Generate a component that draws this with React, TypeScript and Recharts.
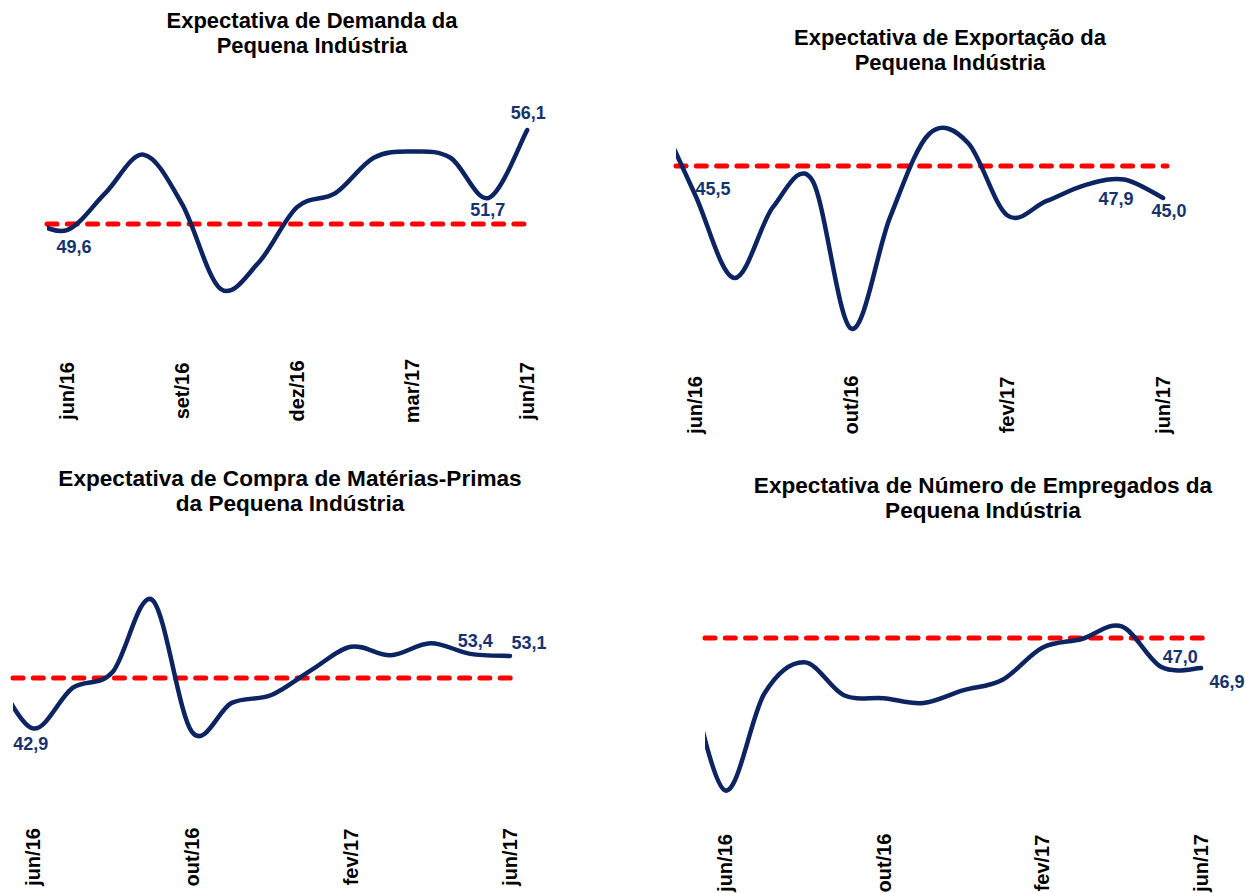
import React from 'react';
import { LineChart, Line, XAxis, YAxis, ReferenceLine, LabelList } from 'recharts';

// ---- Data -----------------------------------------------------------------
const MONTHS = ['mai/16', 'jun/16', 'jul/16', 'ago/16', 'set/16', 'out/16', 'nov/16', 'dez/16', 'jan/17', 'fev/17', 'mar/17', 'abr/17', 'mai/17', 'jun/17'];

const DEMANDA = [50.3, 49.6, 52.0, 54.5, 51.3, 45.8, 47.5, 51.1, 52.0, 54.3, 54.7, 54.3, 51.7, 56.1];
const EXPORTACAO = [58.9, 45.5, 32.5, 43.6, 47.8, 24.6, 42.0, 55.0, 53.6, 42.3, 44.5, 47.0, 47.9, 45.0];
const MATERIAS_PRIMAS = [51.0, 42.9, 48.6, 50.8, 61.0, 42.4, 46.5, 47.6, 51.1, 54.4, 53.2, 54.9, 53.4, 53.1];
const EMPREGADOS = [48.0, 34.3, 44.3, 47.5, 44.1, 43.8, 43.3, 44.6, 45.7, 49.0, 49.9, 51.2, 47.0, 46.9];

const TICKS_TRIMESTRAL = ['jun/16', 'set/16', 'dez/16', 'mar/17', 'jun/17'];
const TICKS_QUADRIMESTRAL = ['jun/16', 'out/16', 'fev/17', 'jun/17'];

const LABELED_DEMANDA = ['jun/16', 'mai/17', 'jun/17'];
const LABELED_EXPORTACAO = ['jun/16', 'mai/17', 'jun/17'];
const LABELED_MATERIAS = ['jun/16', 'mai/17', 'jun/17'];
const LABELED_EMPREGADOS = ['mai/17', 'jun/17'];

const LIMIAR = 50;

// ---- Styles ---------------------------------------------------------------
const FONT = '"Liberation Sans", Arial, Helvetica, sans-serif';
const NAVY = '#0C2461';
const LABEL_NAVY = '#16336E';
const RED = '#FF0000';
const AXIS_H = 1;

const fmt = (v: number) => v.toFixed(1).replace('.', ',');

// Excel-like smoothed line (Catmull-Rom through the points)
const smoothCurve: any = (context: any) => {
  let pts: number[][] = [];
  return {
    areaStart() {},
    areaEnd() {},
    lineStart() {
      pts = [];
    },
    point(x: number, y: number) {
      pts.push([+x, +y]);
    },
    lineEnd() {
      const n = pts.length;
      if (!n) return;
      context.moveTo(pts[0][0], pts[0][1]);
      for (let i = 0; i < n - 1; i++) {
        const p0 = pts[i - 1] || pts[i];
        const p1 = pts[i];
        const p2 = pts[i + 1];
        const p3 = pts[i + 2] || p2;
        context.bezierCurveTo(
          p1[0] + (p2[0] - p0[0]) / 6,
          p1[1] + (p2[1] - p0[1]) / 6,
          p2[0] - (p3[0] - p1[0]) / 6,
          p2[1] - (p3[1] - p1[1]) / 6,
          p2[0],
          p2[1],
        );
      }
    },
  };
};

type LabelPlace = { mes: string; dx: number; dy: number };

type Panel = {
  title: string[];
  titleCx: number;
  titleTop: number;
  titleSize: number;
  values: number[];
  ticks: string[];
  labeled: string[];
  places: LabelPlace[];
  box: { left: number; top: number; width: number; height: number };
  plot: { L: number; R: number; T: number; B: number };
  xDomain: [number, number];
  yDomain: [number, number];
  tickCenter: number;
};

const PANELS: Panel[] = [
  {
    title: ['Expectativa de Demanda da', 'Pequena Indústria'],
    titleCx: 312,
    titleTop: 8,
    titleSize: 22,
    values: DEMANDA,
    ticks: TICKS_TRIMESTRAL,
    labeled: LABELED_DEMANDA,
    places: [
      { mes: 'jun/16', dx: 7, dy: 16 },
      { mes: 'mai/17', dx: -1, dy: 12 },
      { mes: 'jun/17', dx: 1, dy: -18 },
    ],
    box: { left: 0, top: 0, width: 620, height: 445 },
    plot: { L: 47, R: 531, T: 100.8, B: 347.2 },
    xDomain: [-0.52, 12.1],
    yDomain: [42, 58],
    tickCenter: 391,
  },
  {
    title: ['Expectativa de Exportação da', 'Pequena Indústria'],
    titleCx: 950,
    titleTop: 25,
    titleSize: 22,
    values: EXPORTACAO,
    ticks: TICKS_QUADRIMESTRAL,
    labeled: LABELED_EXPORTACAO,
    places: [
      { mes: 'jun/16', dx: 18, dy: -6 },
      { mes: 'mai/17', dx: -8, dy: 19 },
      { mes: 'jun/17', dx: 6, dy: 13 },
    ],
    box: { left: 620, top: 0, width: 625, height: 445 },
    plot: { L: 676, R: 1167, T: 102, B: 358 },
    xDomain: [-0.49, 12.1],
    yDomain: [20, 60],
    tickCenter: 405,
  },
  {
    title: ['Expectativa de Compra de Matérias-Primas', 'da Pequena Indústria'],
    titleCx: 290,
    titleTop: 466,
    titleSize: 22.6,
    values: MATERIAS_PRIMAS,
    ticks: TICKS_QUADRIMESTRAL,
    labeled: LABELED_MATERIAS,
    places: [
      { mes: 'jun/16', dx: -2, dy: 15 },
      { mes: 'mai/17', dx: 5, dy: -13 },
      { mes: 'jun/17', dx: 19, dy: -13 },
    ],
    box: { left: 0, top: 445, width: 620, height: 448 },
    plot: { L: 13, R: 514, T: 571.5, B: 784.5 },
    xDomain: [-0.5, 12.1],
    yDomain: [35, 65],
    tickCenter: 857,
  },
  {
    title: ['Expectativa de Número de Empregados da', 'Pequena Indústria'],
    titleCx: 983,
    titleTop: 473,
    titleSize: 22.6,
    values: EMPREGADOS,
    ticks: TICKS_QUADRIMESTRAL,
    labeled: LABELED_EMPREGADOS,
    places: [
      { mes: 'mai/17', dx: 19, dy: -11 },
      { mes: 'jun/17', dx: 26, dy: 13 },
    ],
    box: { left: 620, top: 445, width: 625, height: 448 },
    plot: { L: 705, R: 1205, T: 589.5, B: 832 },
    xDomain: [-0.5, 12.1],
    yDomain: [30, 55],
    tickCenter: 863,
  },
];

const RotatedTick = (props: any) => {
  const { x, y, payload } = props;
  const label = MONTHS[Math.round(payload.value) + 1];
  return (
    <text
      x={x}
      y={y}
      transform={`rotate(-90, ${x}, ${y})`}
      textAnchor="middle"
      dy="0.36em"
      fontSize={20}
      fontWeight="bold"
      fontFamily={FONT}
      fill="#000"
    >
      {label}
    </text>
  );
};

const makeLabel = (places: LabelPlace[]) => (props: any) => {
  const { value } = props;
  if (value == null || value === '') return null;
  const mes = String(value).split('|')[0];
  const text = String(value).split('|')[1];
  const place = places.find((p) => p.mes === mes);
  if (!place) return null;
  const vb = props.viewBox || {};
  const x = (vb.x ?? props.x) as number;
  const y = (vb.y ?? props.y) as number;
  return (
    <text
      x={x + place.dx}
      y={y + place.dy}
      dy="0.36em"
      textAnchor="middle"
      fontSize={18}
      fontWeight="bold"
      fontFamily={FONT}
      fill={LABEL_NAVY}
    >
      {text}
    </text>
  );
};

const PanelChart = ({ p }: { p: Panel }) => {
  const data = MONTHS.map((mes, k) => ({
    i: k - 1,
    mes,
    v: p.values[k],
    lbl: p.labeled.includes(mes) ? `${mes}|${fmt(p.values[k])}` : undefined,
  }));
  const ticks = p.ticks.map((t) => MONTHS.indexOf(t) - 1);
  const margin = {
    left: p.plot.L - p.box.left,
    right: p.box.left + p.box.width - p.plot.R,
    top: p.plot.T - p.box.top,
    bottom: p.box.top + p.box.height - p.plot.B - AXIS_H,
  };
  return (
    <>
      <div
        style={{
          position: 'absolute',
          left: p.titleCx - 320,
          top: p.titleTop,
          width: 640,
          textAlign: 'center',
          fontFamily: FONT,
          fontWeight: 'bold',
          fontSize: p.titleSize,
          lineHeight: '25px',
          color: '#000',
        }}
      >
        {p.title.map((t) => (
          <div key={t}>{t}</div>
        ))}
      </div>
      <div style={{ position: 'absolute', left: p.box.left, top: p.box.top }}>
        <LineChart width={p.box.width} height={p.box.height} data={data} margin={margin}>
          <XAxis
            dataKey="i"
            type="number"
            domain={p.xDomain}
            allowDataOverflow
            ticks={ticks}
            interval={0}
            height={AXIS_H}
            axisLine={false}
            tickLine={false}
            tickSize={0}
            tickMargin={p.tickCenter - p.plot.B}
            tick={<RotatedTick />}
          />
          <YAxis hide type="number" domain={p.yDomain} allowDataOverflow />
          <ReferenceLine
            y={LIMIAR}
            stroke={RED}
            strokeWidth={5}
            strokeDasharray="10 10.3"
            strokeLinecap="round"
          />
          <Line
            type={smoothCurve}
            dataKey="v"
            stroke={NAVY}
            strokeWidth={4.5}
            strokeLinecap="round"
            dot={false}
            activeDot={false}
            isAnimationActive={false}
          >
            <LabelList dataKey="lbl" content={makeLabel(p.places)} />
          </Line>
        </LineChart>
      </div>
    </>
  );
}

export default function App() {
  return (
    <div
      style={{
        position: 'absolute',
        left: 0,
        top: 0,
        width: 1245,
        height: 893,
        background: '#fff',
        overflow: 'hidden',
      }}
    >
      {PANELS.map((p, k) => (
        <PanelChart key={k} p={p} />
      ))}
    </div>
  );
}
